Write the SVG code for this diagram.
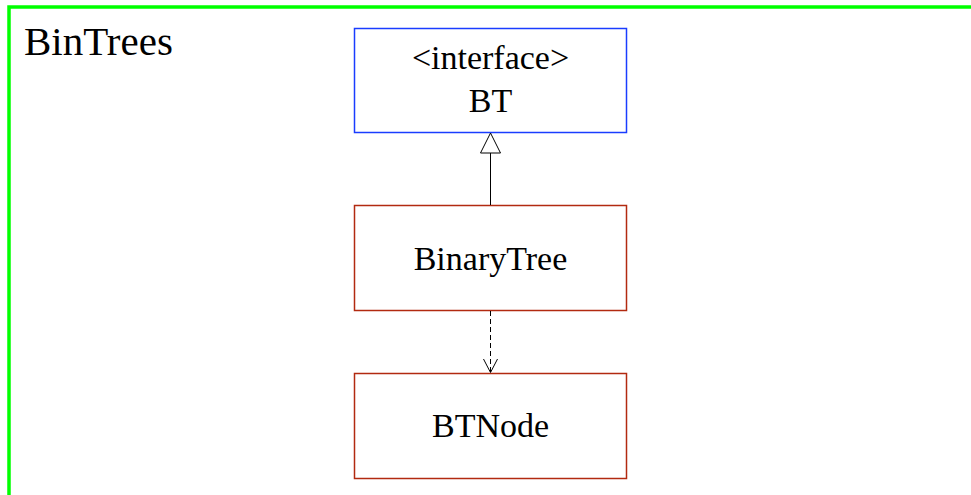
<svg xmlns="http://www.w3.org/2000/svg" width="971" height="495" viewBox="0 0 971 495">
<defs>
<style>
text{font-family:"Liberation Serif","Times New Roman",serif;fill:#000;text-anchor:middle}
.cls{fill:#fff;stroke:#b22a10;stroke-width:1.5}
.ifc{fill:#fff;stroke:#1a3cff;stroke-width:1.5}
.edge{stroke:#000;stroke-width:1;fill:none}
.head{stroke:#000;stroke-width:1}
</style>
</defs>
<rect id="frame" x="9" y="7" width="1000" height="600" fill="#fff" stroke="#00ff00" stroke-width="3.5"/>
<text x="24" y="55" font-size="41" style="text-anchor:start">BinTrees</text>
<g id="BT">
<rect class="ifc" x="354.5" y="28.5" width="272" height="104"/>
<text x="490.5" y="69" font-size="34">&lt;interface&gt;</text>
<text x="490.5" y="112" font-size="34">BT</text>
</g>
<g id="BinaryTree">
<rect class="cls" x="354.5" y="205.5" width="272" height="105"/>
<text x="490.5" y="270" font-size="34">BinaryTree</text>
</g>
<g id="BTNode">
<rect class="cls" x="354.5" y="373.5" width="272" height="105"/>
<text x="490.5" y="437" font-size="34">BTNode</text>
</g>
<g id="connectors">
<line class="edge" x1="490.5" y1="205" x2="490.5" y2="153"/>
<path class="head" d="M490.5,133 L500.5,153 L480.5,153 Z" fill="#fff"/>
<line class="edge" x1="490.5" y1="311" x2="490.5" y2="373" stroke-dasharray="5,3"/>
<path class="head" d="M483.5,359 L490.5,372.5 L497.5,359" fill="none"/>
</g>
</svg>
